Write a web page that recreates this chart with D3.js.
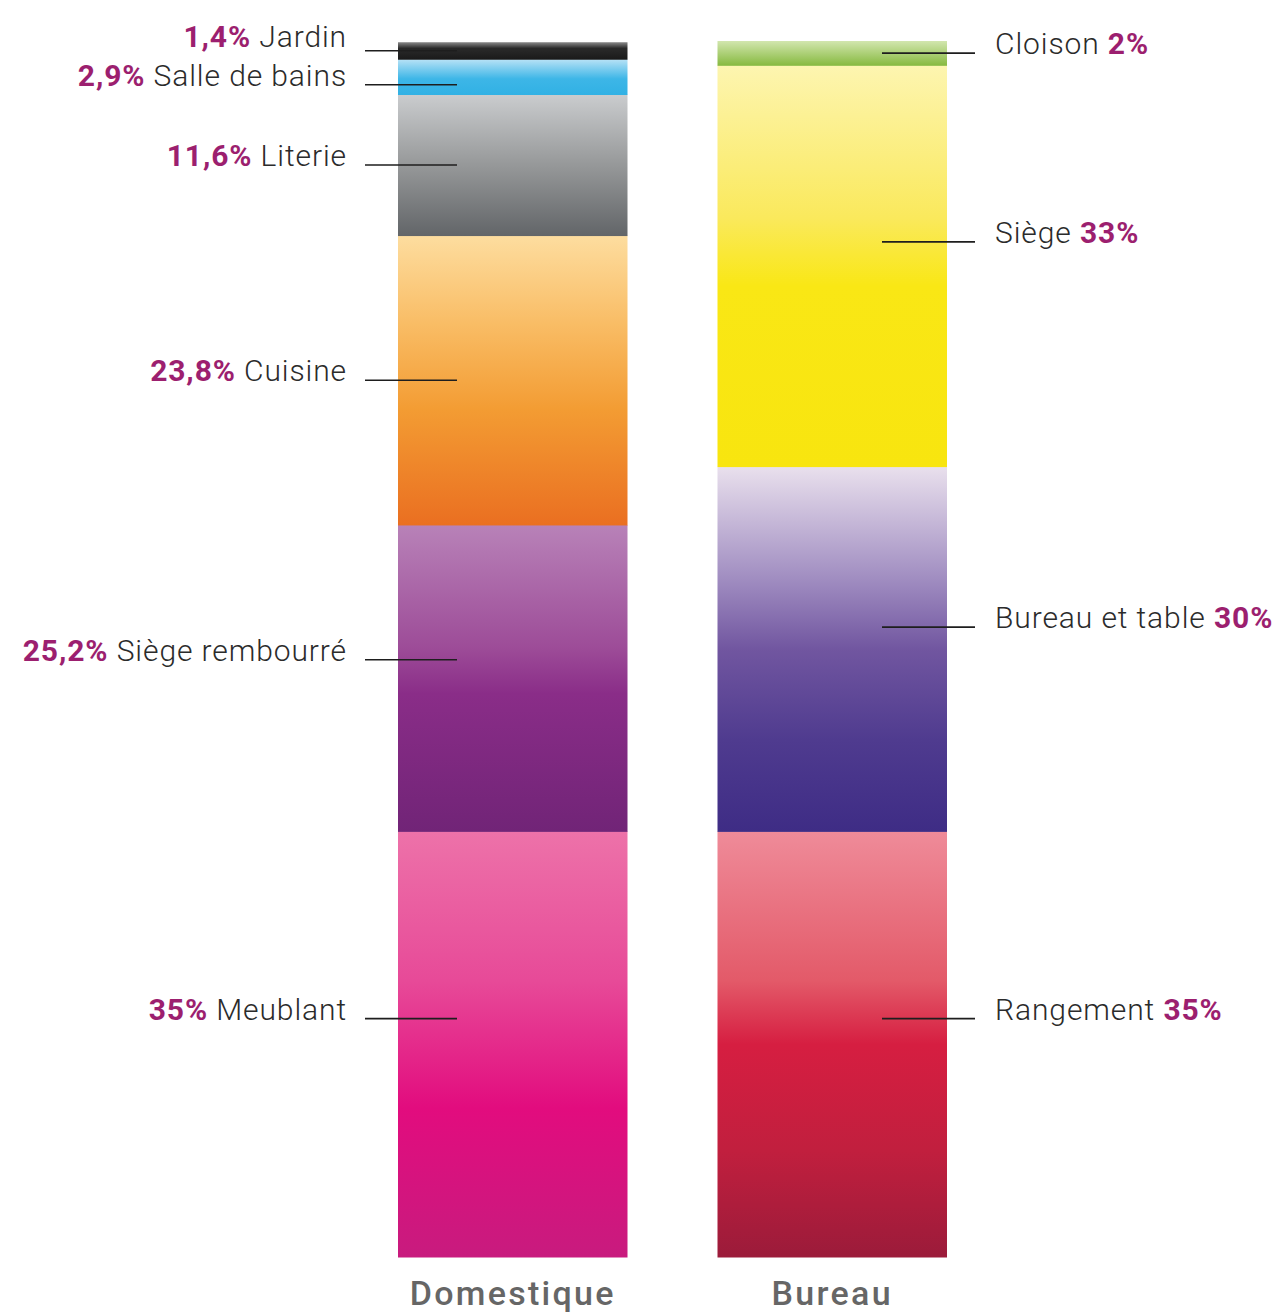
<!DOCTYPE html>
<html lang="fr">
<head>
<meta charset="utf-8">
<title>Domestique / Bureau</title>
<script src="https://cdn.jsdelivr.net/npm/d3@7"></script>
<style>
  html, body { margin: 0; padding: 0; background: #fff; }
  svg { display: block; }
  .lbl { font-family: Roboto, "Noto Sans", sans-serif; font-size: 30px; letter-spacing: 0.9px; }
  .lbl .name { fill: #2b2b2b; font-weight: 300; }
  .lbl .num { fill: #9c1f6f; font-weight: 700; }
  .group { font-family: Roboto, "Noto Sans", sans-serif; font-size: 34px;
           font-weight: 500; fill: #666; letter-spacing: 2.3px; }
</style>
</head>
<body>
<script>
/* Two stacked 100% bars: share of furniture by category, home vs office. */

// ---- data (bottom to top) ---------------------------------------------
const groups = ["Domestique", "Bureau"];

const domCategories = ["Meublant", "Siège rembourré", "Cuisine", "Literie", "Salle de bains", "Jardin"];
const domValues     = [35, 25.2, 23.8, 11.6, 2.9, 1.4];

const burCategories = ["Rangement", "Bureau et table", "Siège", "Cloison"];
const burValues     = [35, 30, 33, 2];

// gradient stops per category, top -> bottom [offset, colour]
const gradients = {
  "Jardin":          [[0, "#8a8a8a"], [0.35, "#2a2a2a"], [1, "#1a1a1a"]],
  "Salle de bains":  [[0, "#b8e2f6"], [0.55, "#3db6e7"], [1, "#31b1e4"]],
  "Literie":         [[0, "#caccce"], [0.5, "#969899"], [1, "#626568"]],
  "Cuisine":         [[0, "#fddd9f"], [0.3, "#f9bd66"], [0.6, "#f39c33"], [1, "#ea6f21"]],
  "Siège rembourré": [[0, "#b882b8"], [0.4, "#9d4c98"], [0.55, "#8a2d88"], [1, "#712477"]],
  "Meublant":        [[0, "#ed72a9"], [0.35, "#e74a98"], [0.65, "#e20c7e"], [1, "#c81b7e"]],
  "Cloison":         [[0, "#d2e6ae"], [1, "#86b93f"]],
  "Siège":           [[0, "#fdf5b0"], [0.38, "#fae95c"], [0.55, "#f9e715"], [1, "#f8e50f"]],
  "Bureau et table": [[0, "#e9e0ed"], [0.3, "#a28fc2"], [0.5, "#7156a0"], [0.75, "#4f3b8f"], [1, "#3e2c85"]],
  "Rangement":       [[0, "#ef8b99"], [0.35, "#e35a69"], [0.5, "#d61e41"], [0.75, "#c11f3e"], [1, "#9b1b3a"]]
};

const fmt = v => String(v).replace(".", ",") + "%";

// ---- layout -------------------------------------------------------------
const W = 1277, H = 1313;

const svg = d3.select("body").append("svg")
  .attr("width", W).attr("height", H);

const x = d3.scaleBand().domain(groups).range([398, 947]).paddingInner(0.2817).paddingOuter(0);
const y = d3.scaleLinear().domain([0, 100]).range([1257, 41]);

function stackOf(cats, vals) {
  let acc = 0;
  return cats.map((c, i) => {
    const d = { cat: c, value: vals[i], y0: acc, y1: acc + vals[i] };
    acc += vals[i];
    return d;
  });
}

const series = [
  { group: "Domestique", side: "left",  segs: stackOf(domCategories, domValues) },
  { group: "Bureau",     side: "right", segs: stackOf(burCategories, burValues) }
];

// gradients
const defs = svg.append("defs");
Object.keys(gradients).forEach((k, i) => {
  const g = defs.append("linearGradient")
    .attr("id", "grad" + i)
    .attr("x1", 0).attr("y1", 0).attr("x2", 0).attr("y2", 1);
  gradients[k].forEach(s => g.append("stop").attr("offset", s[0]).attr("stop-color", s[1]));
  gradients[k].id = "grad" + i;
});

// bars
series.forEach(s => {
  const gx = x(s.group), bw = x.bandwidth();
  svg.append("g").selectAll("rect")
    .data(s.segs)
    .join("rect")
      .attr("x", gx)
      .attr("width", bw)
      .attr("y", d => y(d.y1))
      .attr("height", d => y(d.y0) - y(d.y1) + 0.5)
      .attr("fill", d => "url(#" + gradients[d.cat].id + ")");

  // leader anchor: middle of small segments, a bit above middle for big ones,
  // then pushed apart top-down so thin slices don't collide
  const top = s.segs.slice().reverse();
  let prev = -Infinity;
  top.forEach(d => {
    const f = d.value < 25 ? 0.5 : 0.44;
    let ly = y(d.y1) + f * (y(d.y0) - y(d.y1));
    if (ly < prev + 34) ly = prev + 34;
    d.ly = ly;
    prev = ly;
  });
  // text baselines, pushed apart bottom-up
  let below = Infinity;
  s.segs.forEach(d => {
    let ty = d.ly + 1;
    if (ty > below - 39) ty = below - 39;
    d.ty = ty;
    below = ty;
  });

  const gl = svg.append("g");
  const isLeft = s.side === "left";
  const lx1 = isLeft ? gx - 33 : gx + bw - 65;
  const lx2 = isLeft ? gx + 59 : gx + bw + 28;

  gl.selectAll("line")
    .data(top)
    .join("line")
      .attr("x1", lx1).attr("x2", lx2)
      .attr("y1", d => d.ly).attr("y2", d => d.ly)
      .attr("stroke", "#1e1e1e")
      .attr("stroke-width", 1.6);

  const t = gl.selectAll("text")
    .data(top)
    .join("text")
      .attr("class", "lbl")
      .attr("x", isLeft ? lx1 - 18 : lx2 + 20)
      .attr("y", d => d.ty)
      .attr("text-anchor", isLeft ? "end" : "start");

  t.each(function (d) {
    const el = d3.select(this);
    if (isLeft) {
      el.append("tspan").attr("class", "num").text(fmt(d.value));
      el.append("tspan").attr("class", "name").text(" " + d.cat);
    } else {
      el.append("tspan").attr("class", "name").text(d.cat + " ");
      el.append("tspan").attr("class", "num").text(fmt(d.value));
    }
  });

  svg.append("text")
    .attr("class", "group")
    .attr("x", gx + bw / 2)
    .attr("y", 1305)
    .attr("text-anchor", "middle")
    .text(s.group);
});
</script>
</body>
</html>
